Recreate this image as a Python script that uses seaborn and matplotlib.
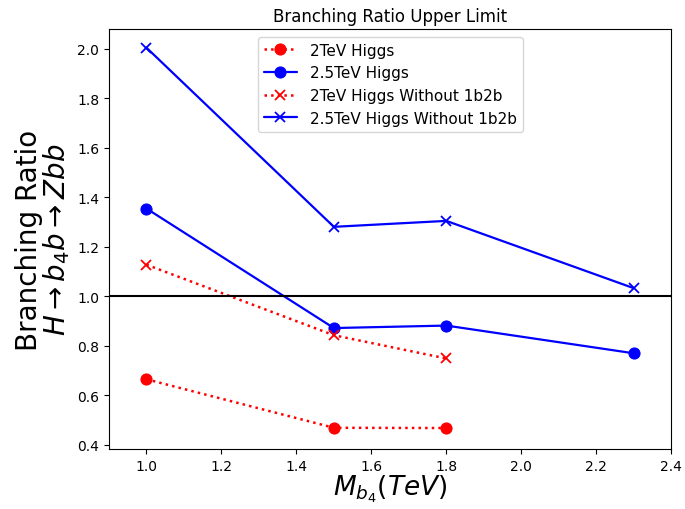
import numpy as np
import pandas as pd
import seaborn as sns
import matplotlib.pyplot as plt

# mass points (TeV)
mass_2tev = [1.0, 1.5, 1.8]
mass_25tev = [1.0, 1.5, 1.8, 2.3]

# branching ratio upper limits
br_2tev = [0.665, 0.469, 0.468]
br_25tev = [1.355, 0.872, 0.882, 0.770]
br_2tev_no1b2b = [1.128, 0.843, 0.749]
br_25tev_no1b2b = [2.005, 1.281, 1.305, 1.033]

sns.set_style("ticks")
plt.rcParams['font.family'] = ['DejaVu Sans']
plt.rcParams['mathtext.fontset'] = 'dejavusans'
for k in ['text.color', 'axes.labelcolor', 'xtick.color', 'ytick.color', 'axes.edgecolor']:
    plt.rcParams[k] = 'black'

fig, ax = plt.subplots(figsize=(6.85, 5.1), dpi=100)

sns.lineplot(x=mass_2tev, y=br_2tev, ax=ax, color='red', linestyle=':', marker='o',
             markersize=8, markeredgecolor='red', linewidth=1.8, label='2TeV Higgs')
sns.lineplot(x=mass_25tev, y=br_25tev, ax=ax, color='blue', linestyle='-', marker='o',
             markersize=8, markeredgecolor='blue', linewidth=1.6, label='2.5TeV Higgs')
sns.lineplot(x=mass_2tev, y=br_2tev_no1b2b, ax=ax, color='red', linestyle=':', marker='x',
             markersize=7, markeredgecolor='red', markeredgewidth=1.3, linewidth=1.8,
             label='2TeV Higgs Without 1b2b')
sns.lineplot(x=mass_25tev, y=br_25tev_no1b2b, ax=ax, color='blue', linestyle='-', marker='x',
             markersize=7, markeredgecolor='blue', markeredgewidth=1.3, linewidth=1.6,
             label='2.5TeV Higgs Without 1b2b')

ax.axhline(1.0, color='black', linewidth=1.5)

ax.set_xlim(0.9, 2.4)
ax.set_ylim(0.384, 2.08)
ax.set_title('Branching Ratio Upper Limit', fontsize=12, color='black')
ax.set_xlabel(r'$M_{b_4}(TeV)$', fontsize=19, labelpad=0)
ax.set_ylabel('Branching Ratio\n' + r'$H{\rightarrow}b_4b{\rightarrow}Zbb$', fontsize=20, linespacing=0.9)
ax.tick_params(labelsize=10, colors='black')
for s in ax.spines.values():
    s.set_color('black')
    s.set_visible(True)

ax.legend(loc='upper center', fontsize=11, handlelength=2.2)

plt.subplots_adjust(left=0.159, right=0.98, bottom=0.118, top=0.941)
plt.savefig('out.png')
